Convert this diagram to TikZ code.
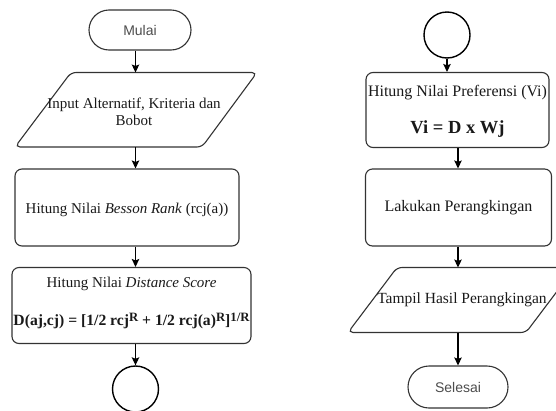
\documentclass[tikz,border=0pt]{standalone}
\usepackage{fontspec}
\usepackage{graphicx}
\setmainfont{Liberation Serif}
\newfontfamily\arialf{Liberation Sans}
\usetikzlibrary{arrows.meta,shapes.misc}
\newcommand\supx[1]{\raisebox{0.55ex}{\fontsize{13}{13}\selectfont #1}}
\begin{document}
\begin{tikzpicture}[x=1pt,y=-1pt,
  shapeline/.style={draw=black!80, line width=1.1pt},
  procbox/.style={shapeline, rounded corners=7pt, inner sep=0pt},
  term/.style={shapeline, rounded rectangle, inner sep=0pt, minimum width=102pt, minimum height=40pt,
     font=\arialf\fontsize{14}{16}\selectfont, text=black!70},
  conn/.style={shapeline, draw=black, line width=1.4pt, circle, inner sep=0pt, minimum size=46pt},
  flow/.style={draw=black, line width=1.1pt, -{Stealth[length=8pt,width=7.5pt,inset=1.5pt]}},
  lbl/.style={inner sep=0pt, align=center, text=black!90},
]
\useasboundingbox (0,0) rectangle (556,410);
\clip (0,0) rectangle (556,410);

% column guides for connectors
\coordinate (lx) at (135.5,0);
\coordinate (rx1) at (447,0);
\coordinate (rx2) at (458,0);

% ---------- left column ----------
\node[term] (mulai) at (140,30) {Mulai};

\draw[shapeline, rounded corners=5pt] (15,147) -- (71,72.5) -- (257,72.5) -- (202,147) -- cycle;
\coordinate (inptop) at (135,72.5);
\coordinate (inpbot) at (135,147);
\node[lbl, font=\fontsize{15}{17}\selectfont] (inp) at (134,111.5) {Input Alternatif, Kriteria dan\\Bobot};

\node[procbox, minimum width=224pt, minimum height=77pt] (besson) at (127,207.5) {};
\node[lbl, font=\fontsize{15}{17}\selectfont] (bessontxt) at (127,210) {Hitung Nilai \textit{Besson Rank} (rcj(a))};

\node[procbox, minimum width=239pt, minimum height=76pt] (dist) at (131.5,305.5) {};
\node[lbl, font=\fontsize{15}{17}\selectfont] (disttxt) at (131.5,284) {Hitung Nilai \textit{Distance Score}};
\node[lbl, font=\bfseries\fontsize{16}{18}\selectfont] (distf) at (131.5,321) {\resizebox{236pt}{!}{D(aj,cj) = [1/2 rcj\supx{R} + 1/2 rcj(a)\supx{R}]\supx{1/R}}};

\node[conn] (c1) at (135.5,389) {};

\draw[flow] (mulai.south -| lx) -- (inptop -| lx);
\draw[flow] (inpbot -| lx) -- (besson.north -| lx);
\draw[flow] (besson.south -| lx) -- (dist.north -| lx);
\draw[flow] (dist.south -| lx) -- (c1.north);

% ---------- right column ----------
\node[conn] (c2) at (447,35) {};

\node[procbox, minimum width=183pt, minimum height=75pt] (pref) at (457.5,110) {};
\node[lbl, font=\fontsize{16}{18}\selectfont] (preftxt) at (457.5,93) {Hitung Nilai Preferensi (Vi)};
\node[lbl, font=\bfseries\fontsize{18.5}{20}\selectfont] (preff) at (457.5,129) {Vi = D x Wj};

\node[procbox, minimum width=186pt, minimum height=77pt] (rank) at (458.5,207.5) {};
\node[lbl, font=\fontsize{16}{18}\selectfont] (ranktxt) at (458.5,208) {Lakukan Perangkingan};

\draw[shapeline, rounded corners=5pt] (348,332.5) -- (397,267.5) -- (575,267.5) -- (526,332.5) -- cycle;
\coordinate (tamptop) at (458,267.5);
\coordinate (tampbot) at (458,332.5);
\node[lbl, font=\fontsize{15.5}{17}\selectfont] (tamp) at (462,300) {Tampil Hasil Perangkingan};

\node[term, minimum width=100pt, minimum height=42pt] (selesai) at (458,387) {Selesai};

\draw[flow] (c2.south) -- (pref.north -| rx1);
\draw[flow] (pref.south -| rx2) -- (rank.north -| rx2);
\draw[flow] (rank.south -| rx2) -- (tamptop -| rx2);
\draw[flow] (tampbot -| rx2) -- (selesai.north -| rx2);
\end{tikzpicture}
\end{document}
